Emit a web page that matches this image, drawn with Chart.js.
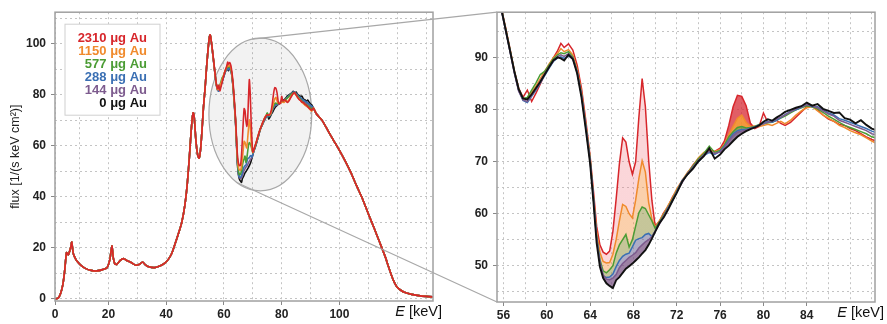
<!DOCTYPE html>
<html>
<head>
<meta charset="utf-8">
<title>Au spectra</title>
<script src="https://cdn.jsdelivr.net/npm/chart.js@4.4.1/dist/chart.umd.min.js"></script>
<style>
  body { margin: 0; background: #fff; }
  #wrap { position: relative; width: 887px; height: 324px; }
  canvas { position: absolute; top: 0; }
  #full { left: 0; }
  #zoom { left: 445px; }
  #overlay { left: 0; pointer-events: none; }
</style>
</head>
<body>
<div id="wrap">
  <canvas id="full" width="445" height="324"></canvas>
  <canvas id="zoom" width="442" height="324"></canvas>
  <canvas id="overlay" width="887" height="324"></canvas>
</div>
<script>
// legend entries, top to bottom
const loadings = ['2310 μg Au', '1150 μg Au', '577 μg Au', '288 μg Au', '144 μg Au', '0 μg Au'];

// full spectrum below the zoom window (all samples lie on top of each other here)
const lowE = [0, 1.5, 2.6, 3.4, 4.2, 4.8, 5.5, 6.1, 6.5, 7.0,
  7.3, 7.8, 8.4, 9.0, 10.5, 12.0, 14.0, 16.0, 18.0, 19.5,
  20.5, 21.2, 21.7, 22.2, 22.9, 24.0, 25.2, 26.5, 28.0, 29.5,
  30.8, 31.8, 32.8, 34.0, 36.0, 38.0, 39.5, 40.8, 42.0, 43.5,
  44.5, 45.4, 46.5, 47.3, 48.0, 48.6, 49.1, 49.4, 49.8, 50.3,
  50.9, 51.4, 51.9, 52.4, 52.9, 53.5, 54.0, 54.6, 55.0, 55.25];
const lowFlux = [0, 0, 0.3, 2.0, 5.5, 10.5, 18.2, 17.2, 18.5, 20.5,
  22.3, 18.0, 16.2, 15.0, 13.2, 12.0, 11.2, 11.0, 11.5, 12.2,
  15.5, 20.8, 16.0, 13.8, 13.5, 15.0, 15.8, 15.0, 14.2, 13.2,
  13.6, 14.5, 13.4, 12.6, 12.3, 13.0, 14.0, 15.6, 18.0, 23.0,
  26.5, 30.0, 37.0, 45.0, 55.0, 65.0, 71.5, 73.0, 70.0, 62.0,
  56.5, 55.2, 58.5, 66.0, 75.0, 83.0, 91.0, 99.0, 102.8, 103.5];

// full spectrum above the zoom window
const highE = [91.0, 92.0, 94.0, 96.0, 98.0, 100.0, 102.0, 104.0, 106.0, 108.0,
  110.0, 112.0, 114.0, 116.0, 117.0, 118.0, 119.0, 120.0, 121.0, 122.5,
  125.0, 128.0, 131.0, 133.0];
const highFlux = [74.8, 72.6, 70.0, 66.0, 62.1, 58.2, 54.0, 49.4, 44.2, 39.2,
  33.4, 27.8, 22.0, 16.1, 12.6, 9.3, 6.5, 4.6, 3.6, 2.6,
  1.8, 1.2, 0.9, 0.8];

// zoom window, one array per sample
const zoomE = [55.4, 55.8, 56.2, 56.6, 57.0, 57.4, 57.8, 58.2, 58.6,
  59.0, 59.4, 59.8, 60.2, 60.6, 61.0,
  61.3, 61.6, 62.0, 62.4, 62.8, 63.2, 63.6, 64.0,
  64.3, 64.6, 64.9, 65.2, 65.5, 65.8, 66.1, 66.4, 66.7, 67.0,
  67.3, 67.6, 67.9, 68.2, 68.5, 68.8, 69.1, 69.4, 69.7, 70.0,
  70.4, 70.8, 71.2, 71.6, 72.0,
  72.5, 73.0, 73.5, 74.0, 74.5, 75.0, 75.5, 76.0,
  76.4, 76.8, 77.2, 77.6, 78.0, 78.4, 78.8, 79.2, 79.6, 80.0,
  80.4, 80.8, 81.2, 81.6, 82.0,
  82.5, 83.0, 83.5, 84.0, 84.5, 85.0, 85.5, 86.0, 86.5, 87.0,
  87.5, 88.0, 88.5, 89.0, 89.5, 90.0, 90.4];

const flux2310 = [102.8, 99.6, 95.8, 91.8, 87.6, 84.2, 82.4, 83.8, 81.6,
  83.2, 85.0, 86.8, 88.6, 90.0, 91.4,
  92.8, 92.0, 92.7, 91.5, 88.6, 84.2, 78.0, 71.0,
  64.5, 57.6, 54.0, 52.6, 52.2, 52.8, 56.6, 62.8, 69.6, 74.6,
  73.8, 70.0, 67.6, 70.0, 78.6, 86.0, 80.6, 70.4, 62.6, 57.6,
  58.6, 60.2, 61.4, 63.2, 64.6,
  66.4, 67.8, 69.4, 70.6, 71.6, 72.2, 72.0, 72.6,
  74.0, 77.0, 80.6, 82.8, 82.6, 80.8, 77.4, 76.4, 76.8, 79.4,
  77.6, 77.8, 78.0, 77.4, 77.0,
  77.6, 78.6, 79.6, 80.6, 80.8, 80.0, 79.0, 78.2, 77.8, 77.2,
  77.0, 76.4, 76.0, 75.4, 74.8, 74.3, 74.0];

const flux1150 = [102.7, 99.4, 95.5, 91.5, 87.3, 83.9, 82.0, 82.3, 83.4,
  84.6, 86.0, 87.4, 88.8, 90.0, 90.9,
  91.8, 91.2, 91.6, 90.6, 87.8, 83.4, 77.2, 70.6,
  63.5, 56.5, 52.6, 50.8, 50.5, 50.6, 52.2, 55.0, 58.6, 61.8,
  61.4, 60.0, 59.2, 62.6, 66.8, 70.2, 68.0, 62.2, 59.0, 57.4,
  58.6, 60.0, 61.6, 63.0, 64.8,
  66.4, 68.0, 69.2, 70.8, 71.8, 72.2, 72.0, 72.3,
  73.4, 75.2, 76.8, 78.4, 79.0, 77.6, 76.8, 76.9, 76.8, 77.0,
  77.2, 77.0, 77.4, 77.8, 77.3,
  78.0, 79.0, 79.8, 80.4, 80.6, 79.8, 79.0, 78.4, 77.8, 77.0,
  76.6, 76.0, 75.6, 75.2, 74.6, 74.0, 73.6];

const flux577 = [102.8, 99.5, 95.6, 91.6, 87.5, 84.0, 82.2, 82.4, 83.8,
  85.2, 86.8, 87.4, 88.6, 89.8, 90.6,
  91.0, 90.8, 91.2, 90.2, 87.4, 83.0, 77.0, 70.4,
  63.2, 55.5, 51.2, 49.0, 48.6, 49.2, 50.0, 52.4, 54.0, 55.0,
  56.0, 53.6, 55.0, 57.6, 60.2, 61.3, 61.0, 59.8, 58.6, 57.2,
  58.4, 59.8, 61.2, 62.8, 64.4,
  66.2, 67.8, 69.2, 70.6, 71.6, 73.0, 71.8, 72.2,
  73.2, 74.8, 75.8, 76.6, 76.8, 76.5, 76.6, 76.8, 77.2, 77.3,
  77.5, 77.6, 78.0, 78.4, 78.8,
  79.4, 80.0, 80.4, 80.8, 80.6, 80.2, 79.5, 78.8, 78.2, 77.6,
  77.0, 76.6, 76.2, 75.8, 75.4, 74.8, 74.6];

const flux288 = [102.5, 99.3, 95.3, 91.3, 87.2, 83.7, 81.8, 81.4, 82.6,
  83.8, 85.2, 86.6, 88.0, 89.3, 90.0,
  90.2, 89.9, 90.4, 89.8, 87.3, 82.9, 76.8, 70.2,
  63.2, 55.4, 50.8, 48.0, 47.7, 47.8, 48.4, 49.8, 51.0, 51.8,
  52.2, 52.4, 53.6, 54.9, 55.2, 55.4, 56.0, 56.2, 55.6, 56.6,
  58.3, 59.5, 61.2, 62.4, 64.3,
  66.4, 67.6, 69.0, 70.0, 71.2, 71.8, 71.4, 72.0,
  73.0, 74.2, 75.4, 76.0, 76.2, 76.2, 76.5, 76.7, 77.1, 77.4,
  77.8, 77.6, 78.0, 78.5, 79.1,
  79.7, 80.0, 80.5, 81.1, 80.6, 80.6, 80.0, 79.4, 79.0, 78.3,
  78.0, 77.6, 77.2, 76.8, 76.4, 75.9, 75.6];

const flux144 = [102.4, 99.2, 95.2, 91.2, 87.1, 83.6, 81.9, 81.6, 82.8,
  84.0, 85.6, 86.9, 88.3, 89.4, 90.3,
  90.6, 90.3, 90.8, 90.0, 87.2, 82.8, 76.6, 70.0,
  63.0, 55.0, 50.6, 48.2, 47.4, 47.3, 47.6, 48.3, 49.6, 50.4,
  51.0, 51.6, 52.0, 52.5, 53.4, 54.0, 54.6, 55.0, 55.6, 56.6,
  58.0, 59.6, 61.0, 62.6, 64.2,
  66.0, 67.8, 68.9, 70.3, 71.4, 72.0, 71.6, 71.9,
  72.8, 74.0, 75.0, 75.7, 75.9, 76.1, 76.4, 76.6, 77.0, 77.3,
  77.6, 77.8, 78.2, 78.6, 79.0,
  79.6, 80.2, 80.6, 81.0, 80.8, 80.4, 79.8, 79.2, 78.8, 78.0,
  77.6, 77.2, 76.8, 76.4, 76.0, 75.4, 75.2];

const flux0 = [102.6, 99.4, 95.4, 91.4, 87.4, 84.0, 82.2, 82.0, 83.0,
  84.2, 85.4, 86.8, 88.2, 89.5, 90.1,
  89.9, 89.5, 90.6, 89.8, 87.0, 82.4, 76.2, 69.6,
  62.4, 54.4, 49.8, 47.6, 46.6, 46.1, 45.7, 47.2, 47.8, 48.6,
  49.4, 49.9, 50.4, 51.0, 51.6, 52.3, 53.0, 54.0, 55.2, 56.5,
  58.2, 59.3, 60.8, 62.5, 64.0,
  66.2, 67.6, 68.7, 70.1, 71.1, 72.6, 70.6, 71.4,
  72.4, 73.1, 74.0, 74.8, 75.4, 75.9, 76.3, 76.6, 77.0, 77.7,
  78.2, 77.9, 78.5, 79.0, 79.6,
  80.0, 80.4, 80.7, 81.4, 80.8, 81.1, 80.2, 79.8, 79.4, 79.5,
  78.4, 78.1, 77.4, 78.0, 77.1, 76.4, 76.1];

// axis ticks and their labels ('' = grid line only)
const fullTicksE = [1.5, 10, 20, 30, 40, 50, 60, 70, 80, 90, 100, 110, 120, 130];
const fullLabelsE = ['0', '', '20', '', '40', '', '60', '', '80', '', '100', '', '', ''];
const fullTicksF = [0, 10, 20, 30, 40, 50, 60, 70, 80, 90, 100, 110];
const fullLabelsF = ['0', '', '20', '', '40', '', '60', '', '80', '', '100', ''];
const zoomTicksE = [56, 58, 60, 62, 64, 66, 68, 70, 72, 74, 76, 78, 80, 82, 84, 86, 88, 90];
const zoomLabelsE = ['56', '', '60', '', '64', '', '68', '', '72', '', '76', '', '80', '', '84', '', '', ''];
const zoomTicksF = [45, 50, 55, 60, 65, 70, 75, 80, 85, 90, 95];
const zoomLabelsF = ['', '50', '', '60', '', '70', '', '80', '', '90', ''];

const seriesFlux = [flux2310, flux1150, flux577, flux288, flux144, flux0];
const lineColors = ['#d7262b', '#f08a2c', '#4b9c34', '#3a6fb3', '#7d5b8e', '#111111'];
// fill under each curve down to the next one: K-edge band, then K-alpha band
const fillColors = [
  ['rgba(240,120,130,0.30)', 'rgba(215,40,50,0.75)'],
  ['rgba(245,150,70,0.45)', 'rgba(242,140,40,0.90)'],
  ['rgba(150,150,70,0.55)', 'rgba(130,145,50,0.85)'],
  ['rgba(110,105,150,0.55)', 'rgba(110,100,140,0.80)'],
  ['rgba(115,75,125,0.70)', 'rgba(110,80,120,0.80)']
];
const bands = [[63.9, 70.6], [76.0, 79.4]];

Chart.defaults.font.family = '"Liberation Sans", Arial, sans-serif';
const tickFont = { size: 12, weight: 'bold' };
const gridColor = '#c4c4c4';

function toPoints(es, fs) {
  return es.map((e, i) => ({ x: e, y: fs[i] }));
}

function bandFill(idx) {
  return function(context) {
    const chart = context.chart;
    const a = chart.chartArea;
    if (!a || !chart.scales.x) return 'rgba(0,0,0,0)';
    const xs = chart.scales.x;
    const pos = e => Math.min(1, Math.max(0, (xs.getPixelForValue(e) - a.left) / (a.right - a.left)));
    const g = chart.ctx.createLinearGradient(a.left, 0, a.right, 0);
    const none = 'rgba(0,0,0,0)';
    g.addColorStop(0, none);
    bands.forEach((b, k) => {
      g.addColorStop(pos(b[0]), none);
      g.addColorStop(pos(b[0]), fillColors[idx][k]);
      g.addColorStop(pos(b[1]), fillColors[idx][k]);
      g.addColorStop(pos(b[1]), none);
    });
    g.addColorStop(1, none);
    return g;
  };
}

// frame round the plot + "E [keV]" where the last tick label would be
const framePlugin = {
  id: 'frame',
  afterDraw(chart) {
    const { ctx, chartArea: a } = chart;
    ctx.save();
    ctx.strokeStyle = '#a0a0a0';
    ctx.lineWidth = 1.5;
    ctx.strokeRect(a.left, a.top, a.right - a.left, a.bottom - a.top);
    ctx.fillStyle = '#111';
    ctx.textBaseline = 'middle';
    ctx.textAlign = 'right';
    const y = a.bottom + 11;
    const xr = a.right + 9;
    ctx.font = '14.5px "Liberation Sans", Arial, sans-serif';
    ctx.fillText(' [keV]', xr, y);
    const w = ctx.measureText(' [keV]').width;
    ctx.font = 'italic 14.5px "Liberation Sans", Arial, sans-serif';
    ctx.fillText('E', xr - w, y);
    ctx.restore();
  }
};

// the gray ring that marks the zoomed region
const ringCenter = { e: 72.6, f: 72.3 };
const ringSize = { e: 17.8, f: 29.9 };
function ringGeom(chart) {
  const xs = chart.scales.x, ys = chart.scales.y;
  const cx = xs.getPixelForValue(ringCenter.e);
  const cy = ys.getPixelForValue(ringCenter.f);
  return {
    cx: cx, cy: cy,
    rx: xs.getPixelForValue(ringCenter.e + ringSize.e) - cx,
    ry: cy - ys.getPixelForValue(ringCenter.f + ringSize.f)
  };
}
const ringPlugin = {
  id: 'ring',
  beforeDatasetsDraw(chart) {
    const r = ringGeom(chart);
    const ctx = chart.ctx;
    ctx.save();
    ctx.beginPath();
    ctx.ellipse(r.cx, r.cy, r.rx, r.ry, 0, 0, Math.PI * 2);
    ctx.fillStyle = 'rgba(0,0,0,0.05)';
    ctx.fill();
    ctx.strokeStyle = '#a8a8a8';
    ctx.lineWidth = 1.2;
    ctx.stroke();
    ctx.restore();
  }
};

// legend: boxed, right-aligned coloured text
const legendPlugin = {
  id: 'boxLegend',
  afterDatasetsDraw(chart) {
    const { ctx, chartArea: a } = chart;
    ctx.save();
    ctx.fillStyle = '#fff';
    ctx.strokeStyle = '#d0d0d0';
    ctx.lineWidth = 1;
    ctx.fillRect(a.left + 10, a.top + 12, 95, 91);
    ctx.strokeRect(a.left + 10, a.top + 12, 95, 91);
    ctx.font = 'bold 13px "Liberation Sans", Arial, sans-serif';
    ctx.textAlign = 'right';
    ctx.textBaseline = 'middle';
    chart.data.datasets.forEach((ds, i) => {
      ctx.fillStyle = ds.borderColor;
      ctx.fillText(ds.label, a.left + 92, a.top + 26 + i * 13);
    });
    ctx.restore();
  }
};

function scaleX(min, max, ticksArr, labels, height) {
  return {
    type: 'linear', min: min, max: max,
    afterBuildTicks: s => { s.ticks = ticksArr.map(v => ({ value: v })); },
    afterFit: s => { s.height = height; },
    ticks: { autoSkip: false, maxRotation: 0, padding: 2, color: '#222', font: tickFont,
             callback: (v, i) => labels[i] },
    grid: { color: gridColor, tickLength: 4,
            tickColor: c => labels[c.index] ? '#888' : 'rgba(0,0,0,0)' },
    border: { display: false, dash: [2, 3] }
  };
}
function scaleY(min, max, ticksArr, labels, width) {
  return {
    min: min, max: max,
    afterBuildTicks: s => { s.ticks = ticksArr.map(v => ({ value: v })); },
    afterFit: s => { s.width = width; },
    ticks: { autoSkip: false, padding: 5, color: '#222', font: tickFont,
             callback: (v, i) => labels[i] },
    grid: { color: gridColor, tickLength: 4,
            tickColor: c => labels[c.index] ? '#888' : 'rgba(0,0,0,0)' },
    border: { display: false, dash: [2, 3] }
  };
}

// left: whole spectrum, red drawn on top
const fullSets = seriesFlux.map((f, i) => ({
  label: loadings[i],
  data: toPoints(lowE.concat(zoomE, highE), lowFlux.concat(f, highFlux)),
  borderColor: lineColors[i],
  borderWidth: 1.6,
  tension: 0.2,
  pointRadius: 0,
  fill: false
}));

const fullY = scaleY(-0.8, 112.4, fullTicksF, fullLabelsF, 55);
fullY.title = { display: true, text: 'flux [1/(s keV cm²)]', color: '#222',
                font: { size: 12.5 }, padding: { top: 8, bottom: 0 } };

const fullChart = new Chart(document.getElementById('full'), {
  type: 'line',
  data: { datasets: fullSets },
  options: {
    responsive: false, animation: false, devicePixelRatio: 1,
    layout: { padding: { top: 5, right: 12, left: 0, bottom: 0 } },
    plugins: { legend: { display: false }, tooltip: { enabled: false } },
    scales: {
      x: scaleX(1.5, 132.4, fullTicksE, fullLabelsE, 23),
      y: fullY
    }
  },
  plugins: [ringPlugin, legendPlugin, framePlugin]
});

// right: zoom window, black on top, shaded between neighbouring curves
const zoomSets = seriesFlux.map((f, i) => ({
  label: loadings[i],
  data: toPoints(zoomE, f),
  borderColor: lineColors[i],
  borderWidth: i === 5 ? 1.9 : 1.5,
  tension: 0,
  pointRadius: 0,
  order: 5 - i,
  fill: i < 5 ? '+1' : false,
  backgroundColor: i < 5 ? bandFill(i) : 'rgba(0,0,0,0)'
}));

const zoomCanvas = document.getElementById('zoom');
const zoomChart = new Chart(zoomCanvas, {
  type: 'line',
  data: { datasets: zoomSets },
  options: {
    responsive: false, animation: false, devicePixelRatio: 1,
    layout: { padding: { top: 5, right: 12, left: 0, bottom: 0 } },
    plugins: { legend: { display: false }, tooltip: { enabled: false } },
    scales: {
      x: scaleX(55.4, 90.3, zoomTicksE, zoomLabelsE, 22),
      y: scaleY(43.0, 98.8, zoomTicksF, zoomLabelsF, 52)
    }
  },
  plugins: [framePlugin]
});

// connector lines from the ring to the corners of the zoom panel
const ov = document.getElementById('overlay').getContext('2d');
const r = ringGeom(fullChart);
function rim(deg) {
  const t = deg * Math.PI / 180;
  return [r.cx + r.rx * Math.cos(t), r.cy + r.ry * Math.sin(t)];
}
const za = zoomChart.chartArea;
const zx = zoomCanvas.offsetLeft + za.left;
ov.strokeStyle = '#a8a8a8';
ov.lineWidth = 1.2;
ov.beginPath();
let p = rim(-99);
ov.moveTo(p[0], p[1]);
ov.lineTo(zx, za.top);
p = rim(116);
ov.moveTo(p[0], p[1]);
ov.lineTo(zx, za.bottom);
ov.stroke();
</script>
</body>
</html>
